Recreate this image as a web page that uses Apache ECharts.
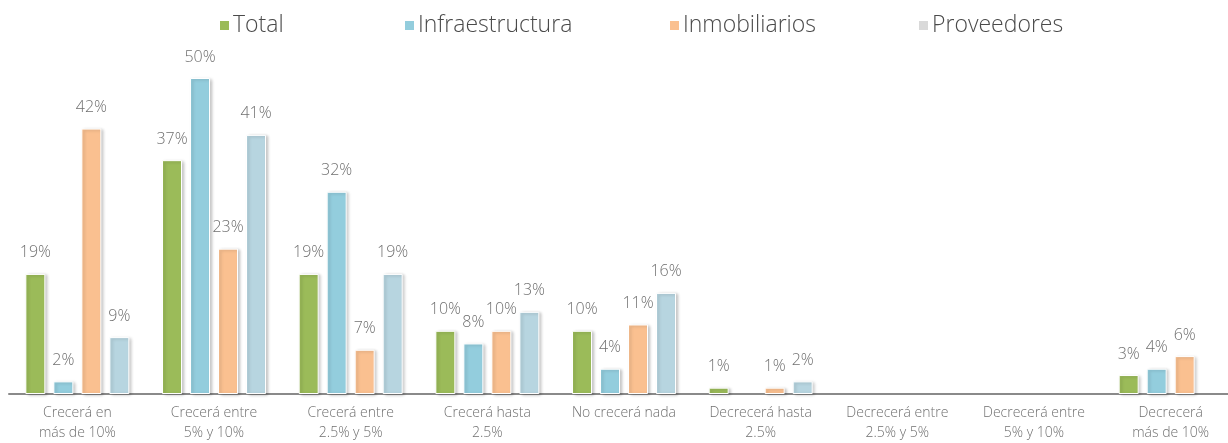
<!DOCTYPE html>
<html>
<head>
<meta charset="utf-8">
<style>
  html, body { margin: 0; padding: 0; background: #fff; overflow: hidden; }
  #chart { width: 1240px; height: 443px; }
</style>
<script src="https://cdn.jsdelivr.net/npm/echarts@6/dist/echarts.min.js"></script>
</head>
<body>
<div id="chart"></div>
<script>
// Expectativas de crecimiento por segmento (%)
const categories = [
  'Crecerá en\nmás de 10%',
  'Crecerá entre\n5% y 10%',
  'Crecerá entre\n2.5% y 5%',
  'Crecerá hasta\n2.5%',
  'No crecerá nada',
  'Decrecerá hasta\n2.5%',
  'Decrecerá entre\n2.5% y 5%',
  'Decrecerá entre\n5% y 10%',
  'Decrecerá\nmás de 10%'
];
const seriesNames = ['Total', 'Infraestructura', 'Inmobiliarios', 'Proveedores'];
const total           = [19, 37, 19, 10, 10, 1, null, null, 3];
const infraestructura = [2, 50, 32, 8, 4, null, null, null, 4];
const inmobiliarios   = [42, 23, 7, 10, 11, 1, null, null, 6];
const proveedores     = [9, 41, 19, 13, 16, 2, null, null, null];

const barColors = ['#9bbb59', '#93cddd', '#fac090', '#b7d5e0'];
const legendIconColors = ['#9bbb59', '#93cddd', '#fac090', '#d9d9d9'];
const legendLeft = [218, 403, 668, 917];
const values = [total, infraestructura, inmobiliarios, proveedores];

const font = '"Open Sans", "Liberation Sans", sans-serif';

const legends = seriesNames.map((name, i) => ({
  left: legendLeft[i],
  top: 14,
  padding: 0,
  itemWidth: 11,
  itemHeight: 11,
  itemGap: 0,
  icon: 'rect',
  data: [{ name: name, itemStyle: { color: legendIconColors[i] } }],
  textStyle: { fontFamily: font, fontWeight: 300, fontSize: 23, color: '#4a4a4a', padding: [0, 0, 0, -2] }
}));

const series = seriesNames.map((name, i) => ({
  name: name,
  type: 'bar',
  data: values[i],
  barWidth: 20,
  barGap: '40%',
  itemStyle: {
    color: barColors[i],
    borderColor: '#ffffff',
    borderWidth: 1,
    shadowColor: 'rgba(0,0,0,0.22)',
    shadowBlur: 3,
    shadowOffsetX: 2,
    shadowOffsetY: 1
  },
  label: {
    show: true,
    position: 'top',
    distance: 13,
    formatter: p => p.value + '%',
    fontFamily: font,
    fontWeight: 300,
    fontSize: 16,
    color: '#707070'
  }
}));

const chart = echarts.init(document.getElementById('chart'));
chart.setOption({
  animation: false,
  backgroundColor: '#ffffff',
  legend: legends,
  grid: { left: 9, right: 1, top: 78, bottom: 48 },
  xAxis: {
    type: 'category',
    data: categories,
    axisLine: { lineStyle: { color: '#8a8a8a', width: 2 } },
    axisTick: { show: false },
    axisLabel: {
      interval: 0,
      margin: 9,
      fontFamily: font,
      fontWeight: 300,
      fontSize: 14,
      lineHeight: 20,
      color: '#707070'
    }
  },
  yAxis: {
    type: 'value',
    min: 0,
    max: 50,
    show: false
  },
  series: series
});
</script>
</body>
</html>
